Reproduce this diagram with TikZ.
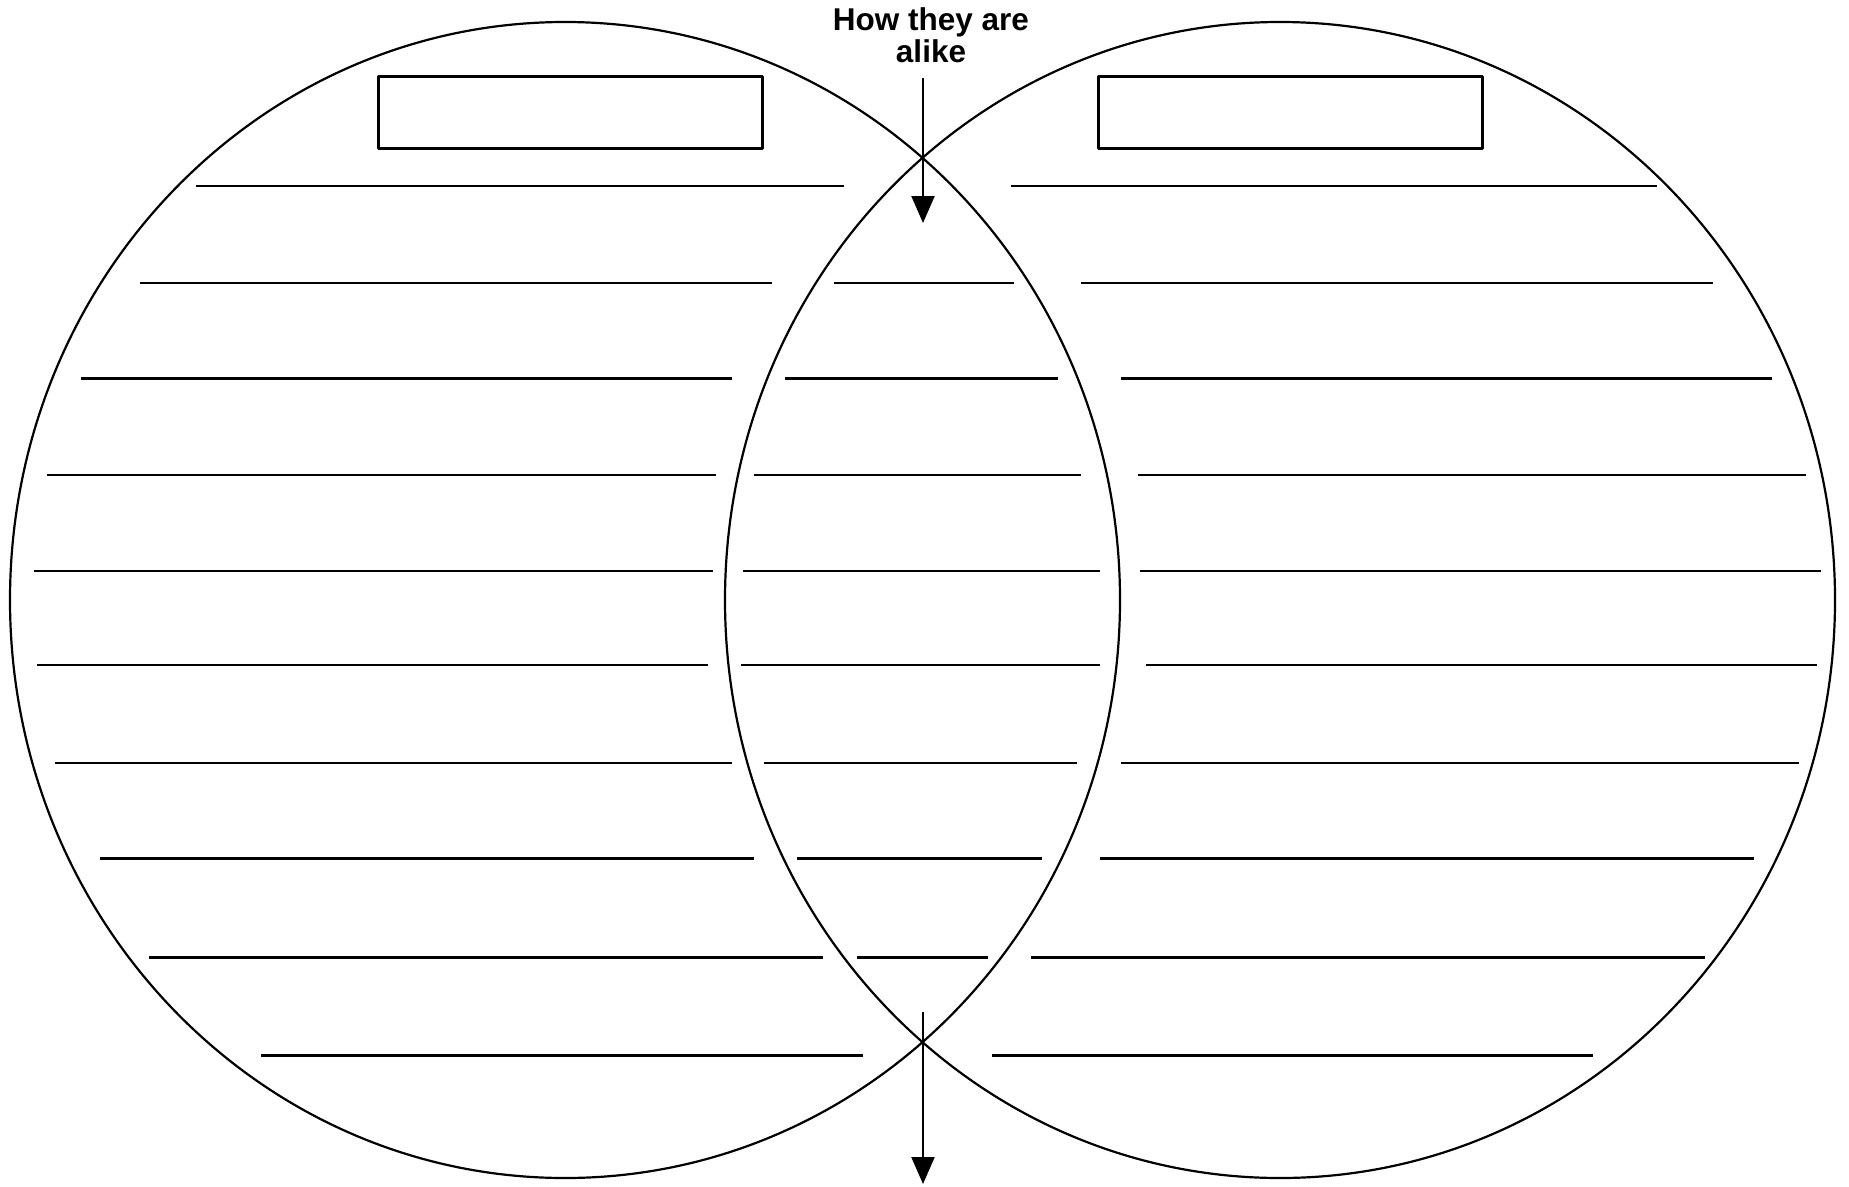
\documentclass[tikz,border=0pt]{standalone}
\usepackage{fontspec}
\setmainfont{Liberation Sans}
\usetikzlibrary{arrows.meta,positioning,shapes.geometric}

\begin{document}
\begin{tikzpicture}[x=1pt, y=-1pt, line cap=butt, line join=round,
  setline/.style={line width=2.6pt},
  setring/.style={draw, ellipse, line width=2.2pt, minimum width=1110pt, minimum height=1156pt, inner sep=0pt},
  namebox/.style={draw, line width=2.2pt, minimum width=384pt, minimum height=72pt, inner sep=0pt},
  pointer/.style={line width=2.2pt, -{Triangle[length=27pt,width=23pt]}}]

\useasboundingbox (0,0) rectangle (1849,1186);

\node[setring] (leftset) at (565,600) {};
\node[setring] (rightset) at (1280,600) {};
\node[namebox] (leftname) at (570.5,112.5) {};
\node[namebox] (rightname) at (1290.5,112.5) {};

\node[font=\bfseries\fontsize{31.5}{32}\selectfont, align=center, inner sep=0pt] (alike) at (931,35) {How they are\\alike};

\coordinate (topstart) at (923,78);
\coordinate (topend) at (923,223);
\coordinate (botstart) at (923,1012);
\coordinate (botend) at (923,1184);
\draw[pointer] (topstart) -- (topend);
\draw[pointer] (botstart) -- (botend);

\foreach \y/\a/\b in {186/196/844, 283/140/772, 378.5/81/732, 475/47/716, 571/34/713,
                      665/37/707.5, 763/55/732, 858.5/100/753.5, 957.5/149/823, 1055.5/261/863}{
  \draw[setline] (\a,\y) -- (\b,\y);
}
\foreach \y/\a/\b in {283/834/1014, 378.5/785/1058, 475/753.5/1081, 571/743/1100,
                      665/740.5/1100, 763/764/1077, 858.5/797/1042, 957.5/857/988}{
  \draw[setline] (\a,\y) -- (\b,\y);
}
\foreach \y/\a/\b in {186/1011/1657, 283/1081/1713, 378.5/1121/1772, 475/1138/1806, 571/1140/1821,
                      665/1146/1817, 763/1121/1799, 858.5/1100/1753.5, 957.5/1031/1705, 1055.5/992/1593}{
  \draw[setline] (\a,\y) -- (\b,\y);
}

\end{tikzpicture}
\end{document}
